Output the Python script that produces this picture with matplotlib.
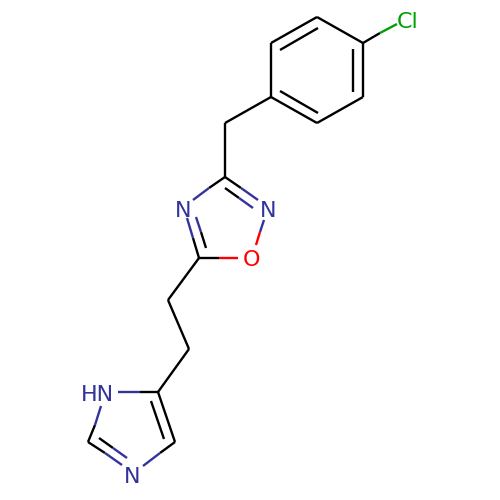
import matplotlib
matplotlib.use("Agg")
import matplotlib.pyplot as plt

BLACK = "#000000"
BLUE = "#33339a"
RED = "#ff0000"
GREEN = "#00a000"

# x0, y0, x1, y1 in reference pixel units
black_bonds = [
    (363, 43, 380, 33), (363, 43, 317, 17), (317, 17, 271, 43), (271, 43, 271, 97),
    (271, 97, 317, 123), (317, 123, 363, 97), (363, 97, 363, 43),
    (280, 50, 318, 28), (353, 49, 353, 92), (280, 91, 318, 113),
    (271, 97, 225, 123), (225, 123, 225, 177),
    (225, 177, 209, 188), (225, 177, 241, 188), (225, 188, 239, 198),
    (199, 258, 219, 258), (199, 258, 193, 238), (206, 248, 201, 232),
    (199, 258, 168, 300), (168, 300, 189, 349), (189, 349, 158, 392),
    (158, 392, 140, 392), (158, 392, 175, 442), (151, 401, 164, 439),
    (175, 442, 160, 453), (88, 442, 95, 425), (88, 442, 105, 453), (99, 438, 113, 448),
]
blue_bonds = [
    (209, 188, 193, 200), (241, 188, 258, 200), (239, 198, 253, 208),
    (264, 220, 260, 232), (193, 238, 187, 218), (201, 232, 196, 217),
    (140, 392, 118, 392), (95, 425, 101, 406), (105, 453, 122, 465),
    (113, 448, 127, 458), (160, 453, 143, 466),
]
red_bonds = [(260, 232, 256, 245), (219, 258, 238, 258)]
green_bonds = [(380, 33, 397, 24)]

labels = ["Cl", "N", "N", "O", "HN", "N"]
label_x = [408, 268, 183, 251, 97, 132]
label_y = [20, 209, 209, 258, 393, 475]
label_colors = [GREEN, BLUE, BLUE, RED, BLUE, BLUE]

fig = plt.figure(figsize=(5, 5), dpi=100, facecolor="white")
ax = fig.add_axes([0, 0, 1, 1])
ax.set_xlim(0, 500)
ax.set_ylim(500, 0)
ax.axis("off")

for bonds, color in [(black_bonds, BLACK), (blue_bonds, BLUE), (red_bonds, RED), (green_bonds, GREEN)]:
    for x0, y0, x1, y1 in bonds:
        ax.plot([x0, x1], [y0, y1], color=color, lw=1.7, solid_capstyle="butt")

for s, x, y, c in zip(labels, label_x, label_y, label_colors):
    ax.text(x, y, s, color=c, fontsize=16, family="DejaVu Sans", ha="center", va="center_baseline")

fig.savefig("out.png", dpi=100, facecolor="white")
